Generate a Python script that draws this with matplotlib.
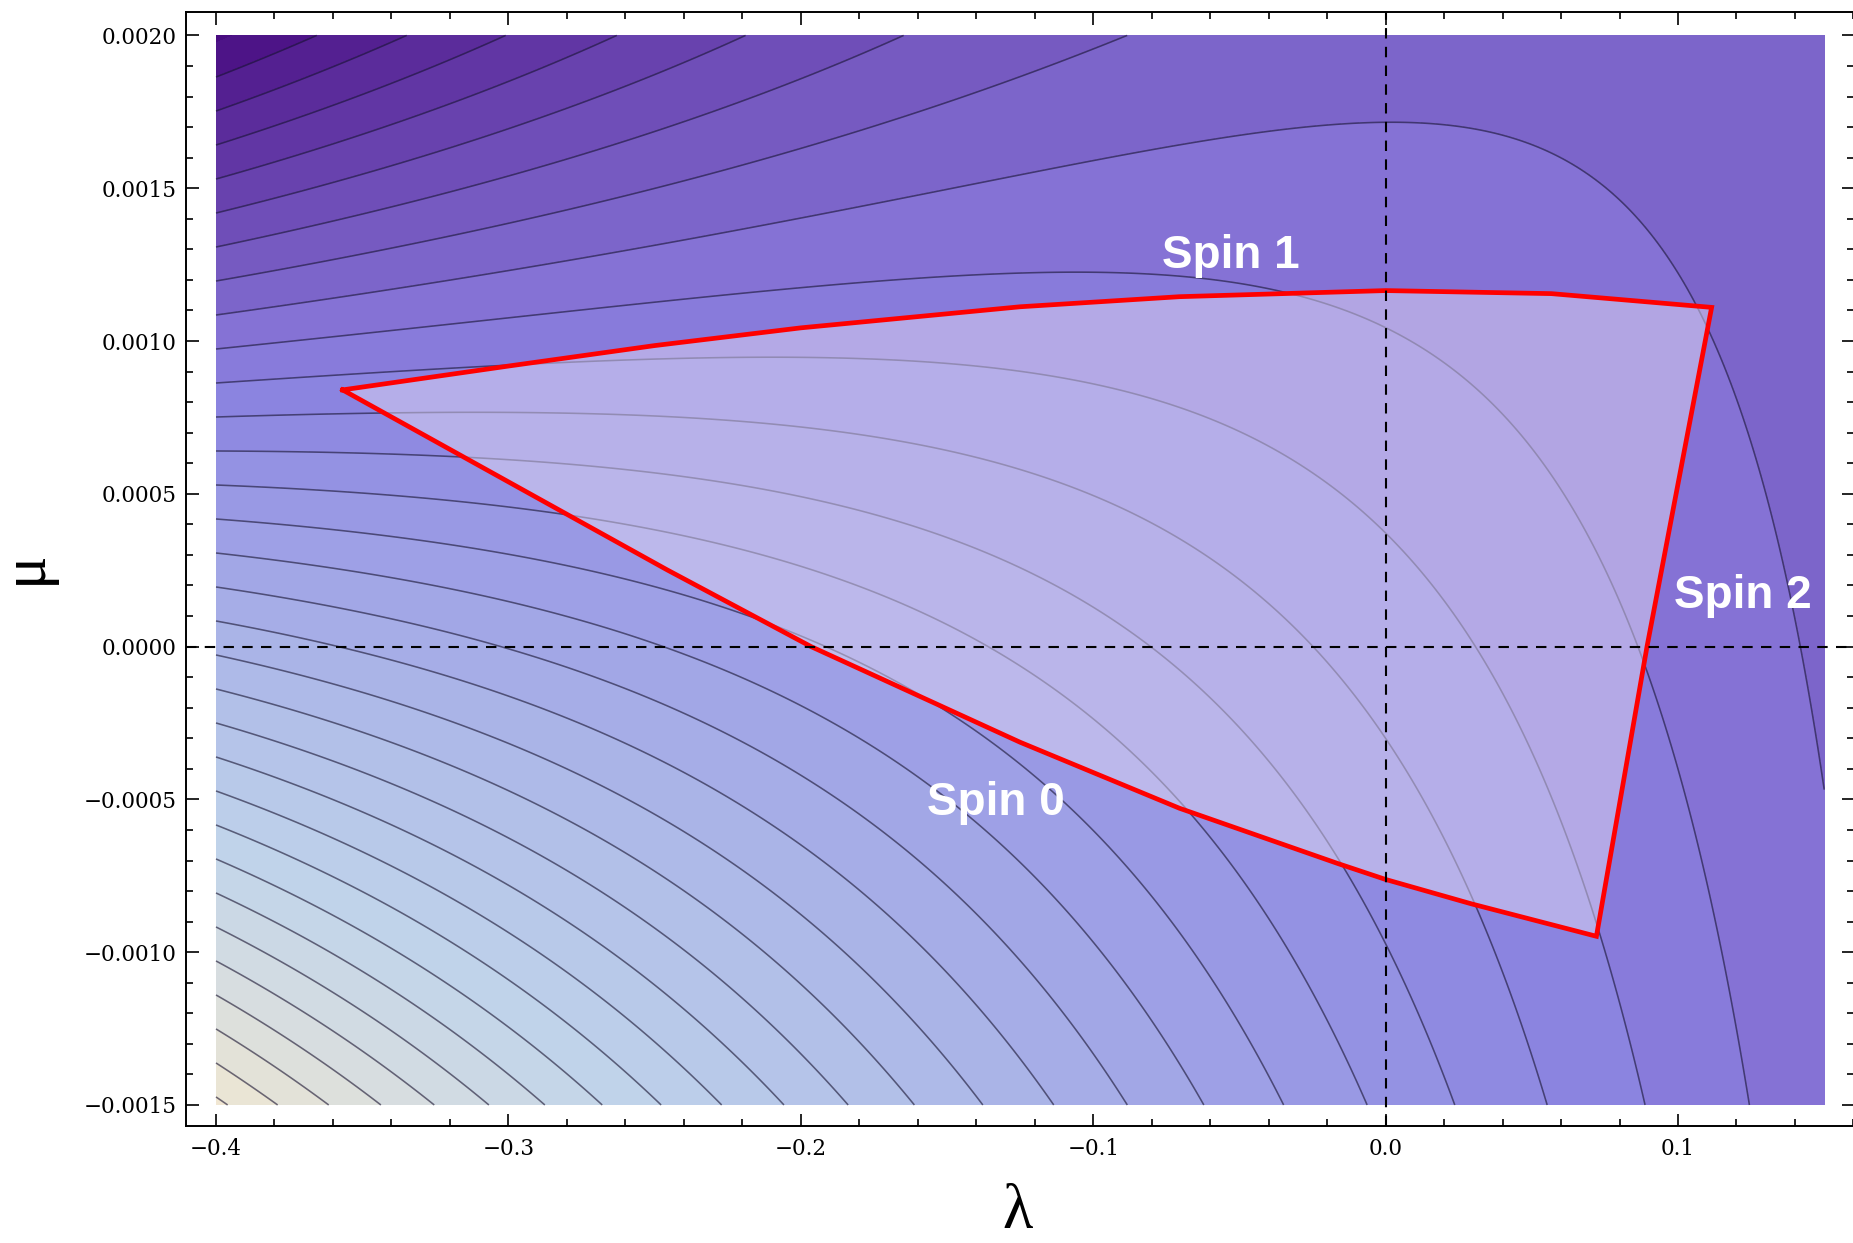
import numpy as np
import matplotlib
matplotlib.use("Agg")
import matplotlib.pyplot as plt
from matplotlib.colors import LinearSegmentedColormap
from matplotlib.ticker import MultipleLocator, FuncFormatter

# plotted range of the contour map
LAM_RANGE = [-0.4, 0.15]
MU_RANGE = [-0.0015, 0.002]

# contour surface, in units of one contour step
# level = OFFSET[0] + OFFSET[1]*u - v*(S[0] + S[1]*u + S[2]*u^2 + S[3]*u^3)
# with u = lambda/0.1 and v = mu/0.0005
LEVEL_OFFSET = [10.553, -1.8]
LEVEL_MU_SLOPE = [0.744, -0.5283, 0.09432, -0.002]
CONTOUR_LEVELS = list(range(1, 32))

# shading: contour level -> colour
SHADE_LEVELS = [-1, 0, 7.5, 8.5, 10.5, 14.5, 18.8, 23.5, 27.0, 29.5, 32]
SHADE_COLORS = ["#470A7E", "#4A0F83", "#7D66CB", "#8573D6", "#8B84E0",
                "#9EA0E6", "#AFBCE8", "#BFD3EA", "#D3DCE2", "#E3E2D8", "#F3E8D2"]

# boundaries of the allowed region
SPIN1_LAM = [-0.3567, -0.30, -0.25, -0.20, -0.125, -0.0705, 0.0, 0.0567, 0.1115]
SPIN1_MU = [0.00084, 0.000918, 0.000985, 0.001043, 0.001112, 0.001145, 0.001165, 0.001155, 0.00111]
SPIN2_LAM = [0.1115, 0.0894, 0.0721]
SPIN2_MU = [0.00111, 0.0, -0.000948]
SPIN0_LAM = [0.0721, 0.0294, 0.0, -0.016, -0.0705, -0.125, -0.1965, -0.2457, -0.3567]
SPIN0_MU = [-0.000948, -0.000842, -0.000762, -0.000711, -0.000529, -0.000313, 0.0, 0.000251, 0.00084]

LABELS = ["Spin 1", "Spin 0", "Spin 2"]
LABEL_LAM = [-0.0529, -0.1332, 0.1221]
LABEL_MU = [0.00124, -0.000552, 0.000125]


def level(lam, mu):
    u = lam / 0.1
    v = mu / 0.0005
    slope = sum(c * u ** i for i, c in enumerate(LEVEL_MU_SLOPE))
    return LEVEL_OFFSET[0] + LEVEL_OFFSET[1] * u - v * slope


def minus(fmt):
    return FuncFormatter(lambda x, pos: (fmt % x).replace("-", "\u2212"))


fig = plt.figure(figsize=(18.53, 12.43), dpi=100)
ax = fig.add_axes([0.10038, 0.09413, 0.90016, 0.89582])

lam = np.linspace(LAM_RANGE[0], LAM_RANGE[1], 800)
mu = np.linspace(MU_RANGE[0], MU_RANGE[1], 800)
LAM, MU = np.meshgrid(lam, mu)
Z = level(LAM, MU)

lo, hi = SHADE_LEVELS[0], SHADE_LEVELS[-1]
pos = [(s - lo) / (hi - lo) for s in SHADE_LEVELS]
cmap = LinearSegmentedColormap.from_list("mma", list(zip(pos, SHADE_COLORS)))
edges = np.arange(-2, 34)
band_colors = [cmap(np.clip((k + 0.5 - lo) / (hi - lo), 0, 1)) for k in edges[:-1]]

ax.contourf(LAM, MU, Z, levels=edges, colors=band_colors, zorder=1)
ax.contour(LAM, MU, Z, levels=CONTOUR_LEVELS, colors=[(0.08, 0.06, 0.18, 0.6)],
           linewidths=1.15, zorder=2)

# allowed region
reg_lam = SPIN1_LAM + SPIN2_LAM[1:] + SPIN0_LAM[1:]
reg_mu = SPIN1_MU + SPIN2_MU[1:] + SPIN0_MU[1:]
ax.fill(reg_lam, reg_mu, color="#E0D8F2", alpha=0.5, lw=0, zorder=3)
ax.plot(reg_lam, reg_mu, color="#FF0000", lw=3.4, solid_joinstyle="miter", zorder=4)

ax.axvline(0, color="black", lw=1.5, ls=(0, (5, 4)), zorder=5)
ax.axhline(0, color="black", lw=1.5, ls=(0, (5, 4)), zorder=5)

for txt, x, y in zip(LABELS, LABEL_LAM, LABEL_MU):
    ax.text(x, y, txt, color="white", fontsize=33, fontweight="bold",
            family="Liberation Sans", ha="center", va="baseline", zorder=6)

ax.set_xlim(-0.41026, 0.16019)
ax.set_ylim(-0.0015688, 0.002075)

ax.xaxis.set_major_locator(MultipleLocator(0.1))
ax.xaxis.set_minor_locator(MultipleLocator(0.02))
ax.yaxis.set_major_locator(MultipleLocator(0.0005))
ax.yaxis.set_minor_locator(MultipleLocator(0.0001))
ax.xaxis.set_major_formatter(minus("%.1f"))
ax.yaxis.set_major_formatter(minus("%.4f"))

ax.tick_params(which="both", direction="in", top=True, right=True, width=1.2)
ax.tick_params(which="major", length=9)
ax.tick_params(which="minor", length=5)
ax.tick_params(axis="x", pad=9)
ax.tick_params(axis="y", pad=7)
for lab in ax.get_xticklabels() + ax.get_yticklabels():
    lab.set_family("DejaVu Serif")
    lab.set_fontsize(15.5)
for sp in ax.spines.values():
    sp.set_linewidth(1.4)

fig.text(1018 / 1853, 0.001, "\u03bb", family="Liberation Serif", fontsize=45,
         ha="center", va="bottom")
fig.text(26 / 1853, 1 - 567 / 1243, "\u03bc", family="Liberation Serif", fontsize=45,
         rotation=90, ha="center", va="center")

fig.savefig("out.png", dpi=100)
